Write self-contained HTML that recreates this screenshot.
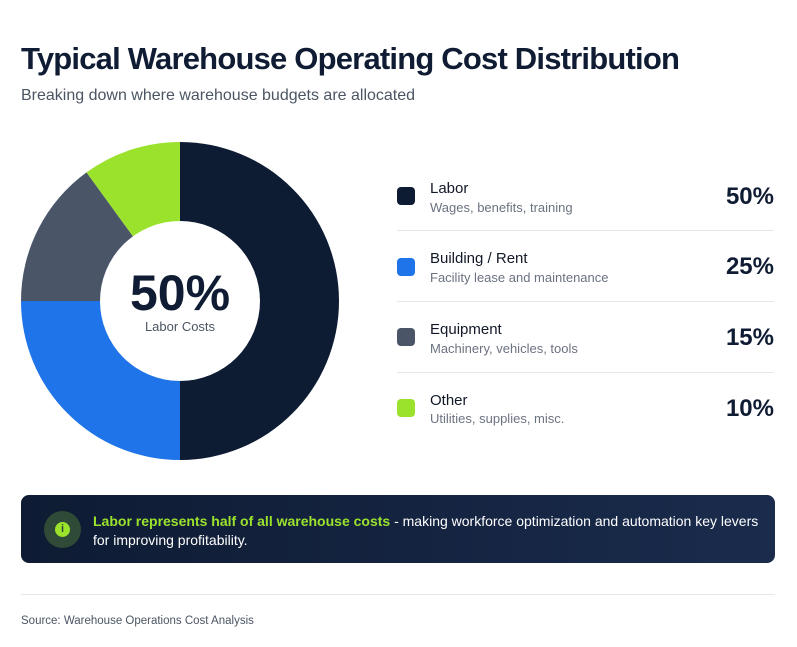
<!DOCTYPE html>
<html><head><style>
*{margin:0;padding:0;box-sizing:border-box}
body{width:797px;height:647px;background:#fff;font-family:"Liberation Sans",sans-serif;position:relative;overflow:hidden;color:#0f1c33}
.a{position:absolute}
h1{position:absolute;left:21px;top:41px;font-size:31px;font-weight:700;letter-spacing:-0.8px;color:#0f1c33}
.sub{left:21px;top:87px;font-size:16px;color:#4b5563}
.sq{width:18px;height:18px;border-radius:4px;left:397px}
.lab{left:430px;font-size:15px;color:#111827}
.desc{left:430px;font-size:13px;color:#6b7280}
.pct{right:23px;font-size:24px;font-weight:700;color:#0f1c33}
.sep{left:397px;width:377px;height:1px;background:#e5e7eb}
</style></head><body>
<h1>Typical Warehouse Operating Cost Distribution</h1>
<div class="a sub">Breaking down where warehouse budgets are allocated</div>
<svg class="a" style="left:0;top:0" width="797" height="647">
<path d="M180,142 A159,159 0 0 1 180,460 Z" fill="#0d1b33"/>
<path d="M180,460 A159,159 0 0 1 21,301 L180,301 Z" fill="#1e74e8"/>
<path d="M21,301 A159,159 0 0 1 86.5,172.4 L180,301 Z" fill="#4a5568"/>
<path d="M86.5,172.4 A159,159 0 0 1 180,142 L180,301 Z" fill="#9be22d"/>
<circle cx="180" cy="301" r="80" fill="#fff"/>
<text x="180" y="310" text-anchor="middle" font-family="Liberation Sans" font-weight="700" font-size="50" fill="#0f1c33">50%</text>
<text x="180" y="331" text-anchor="middle" font-family="Liberation Sans" font-size="13" fill="#4b5563">Labor Costs</text>
</svg>
<div class="a sq" style="top:187px;background:#0d1b33"></div>
<div class="a lab" style="top:180px">Labor</div>
<div class="a desc" style="top:200px">Wages, benefits, training</div>
<div class="a pct" style="top:183px">50%</div>
<div class="a sep" style="top:230px"></div>
<div class="a sq" style="top:258px;background:#1e74e8"></div>
<div class="a lab" style="top:250px">Building / Rent</div>
<div class="a desc" style="top:270px">Facility lease and maintenance</div>
<div class="a pct" style="top:253px">25%</div>
<div class="a sep" style="top:301px"></div>
<div class="a sq" style="top:328px;background:#4a5568"></div>
<div class="a lab" style="top:321px">Equipment</div>
<div class="a desc" style="top:341px">Machinery, vehicles, tools</div>
<div class="a pct" style="top:324px">15%</div>
<div class="a sep" style="top:372px"></div>
<div class="a sq" style="top:399px;background:#9be22d"></div>
<div class="a lab" style="top:392px">Other</div>
<div class="a desc" style="top:411px">Utilities, supplies, misc.</div>
<div class="a pct" style="top:395px">10%</div>
<div class="a" style="left:21px;top:495px;width:754px;height:68px;border-radius:8px;background:linear-gradient(90deg,#0e1b33,#1a2b4c)"></div>
<div class="a" style="left:44px;top:511px;width:37px;height:37px;border-radius:50%;background:#2f4a37"></div>
<div class="a" style="left:55px;top:522px;width:15px;height:15px;border-radius:50%;background:#9be22d;color:#2f4a37;font-size:11px;font-weight:700;text-align:center;line-height:15px">i</div>
<div class="a" style="left:93px;top:512px;width:670px;font-size:14px;line-height:19px;color:#fff"><b style="color:#9be22d">Labor represents half of all warehouse costs</b> - making workforce optimization and automation key levers for improving profitability.</div>
<div class="a" style="left:21px;top:594px;width:754px;height:1px;background:#e5e7eb"></div>
<div class="a" style="left:21px;top:615px;font-size:11.5px;color:#4b5563">Source: Warehouse Operations Cost Analysis</div>
</body></html>
